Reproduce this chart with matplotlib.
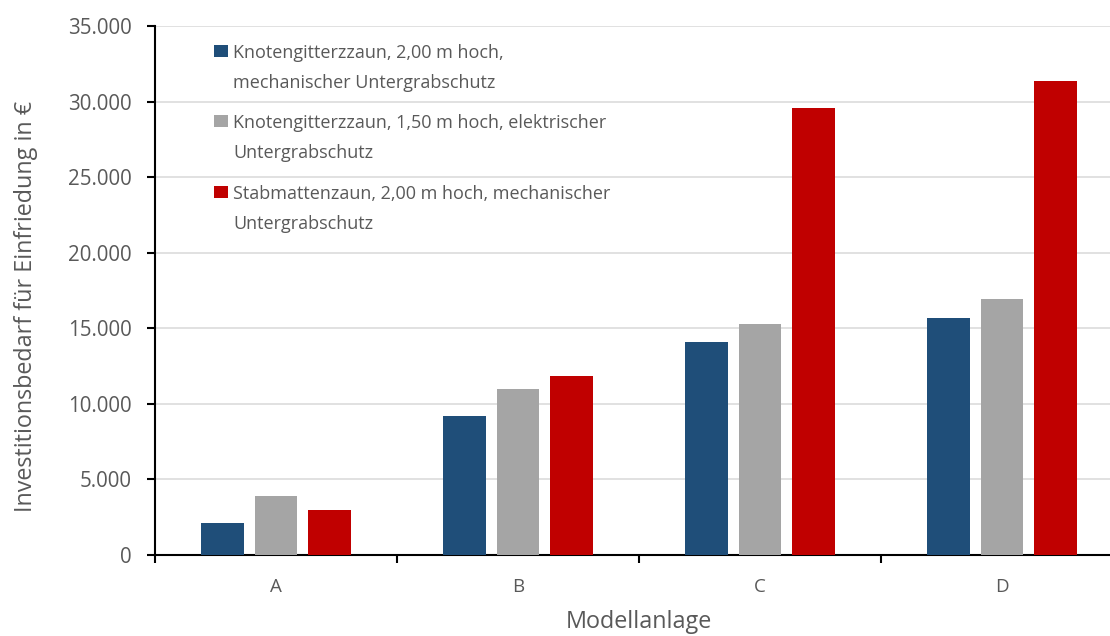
import matplotlib
matplotlib.use("Agg")
import matplotlib.pyplot as plt
import numpy as np
from matplotlib.ticker import FuncFormatter, FixedLocator
from matplotlib.patches import Rectangle

categories = ["A", "B", "C", "D"]
series_names = [
    ["Knotengitterzzaun, 2,00 m hoch,", "mechanischer Untergrabschutz"],
    ["Knotengitterzzaun, 1,50 m hoch, elektrischer", "Untergrabschutz"],
    ["Stabmattenzaun, 2,00 m hoch, mechanischer", "Untergrabschutz"],
]
knoten_200 = [2100, 9200, 14100, 15700]
knoten_150 = [3900, 11000, 15300, 16950]
stabmatten = [3000, 11850, 29580, 31370]
colors = ["#1f4e79", "#a5a5a5", "#c00000"]
text_color = "#595959"

plt.rcParams['font.family'] = ['Open Sans', 'DejaVu Sans']

W, H = 1110, 636
fig = plt.figure(figsize=(W/100, H/100), dpi=100)
ax_left, ax_bottom_px, ax_top_px, ax_w = 155, 555, 26, 968
ax = fig.add_axes([ax_left/W, 1-ax_bottom_px/H, ax_w/W, (ax_bottom_px-ax_top_px)/H])
ax_h = ax_bottom_px - ax_top_px

x = np.arange(len(categories))
w = 0.174
off = 0.221
containers = []
for i, (vals, c) in enumerate(zip([knoten_200, knoten_150, stabmatten], colors)):
    containers.append(ax.bar(x + (i-1)*off, vals, width=w, color=c, zorder=3))

ax.set_xlim(-0.5, 3.5)
ax.set_ylim(0, 35000)
ax.set_yticks(np.arange(0, 35001, 5000))
ax.yaxis.set_major_formatter(FuncFormatter(lambda v, p: f"{int(v):,}".replace(",", ".")))
ax.set_xticks(x)
ax.set_xticklabels(categories)
ax.xaxis.set_minor_locator(FixedLocator([-0.5, 0.5, 1.5, 2.5, 3.5]))
ax.tick_params(axis='x', which='major', length=0, pad=16.5, labelsize=13.5, labelcolor=text_color)
ax.tick_params(axis='x', which='minor', length=5.5, width=1.5, direction='out', color='black')
ax.tick_params(axis='y', length=6, width=1.5, direction='out', color='black',
               labelsize=14.8, labelcolor=text_color, pad=11)

ax.grid(axis='y', color='#d9d9d9', linewidth=1.1, zorder=0)
ax.set_axisbelow(True)
for s in ['top', 'right']:
    ax.spines[s].set_visible(False)
for s in ['left', 'bottom']:
    ax.spines[s].set_color('black')
    ax.spines[s].set_linewidth(1.5)

ax.set_ylabel("Investitionsbedarf für Einfriedung in €", fontsize=16.8, color=text_color)
ax.yaxis.set_label_coords((38-ax_left)/ax_w, (ax_bottom_px-306)/ax_h)
ax.set_xlabel("Modellanlage", fontsize=16.8, color=text_color)
ax.xaxis.set_label_coords(0.4995, (ax_bottom_px-610)/ax_h)

# legend (manual, two-line entries with square at first line)
leg_baselines = [58, 128, 199]
line_step = 30
for cont, lines, by in zip(containers, series_names, leg_baselines):
    col = cont.patches[0].get_facecolor()
    ax.add_patch(Rectangle(((214-ax_left)/ax_w, (ax_bottom_px-(by-1))/ax_h),
                           14/ax_w, 12.5/ax_h, transform=ax.transAxes,
                           facecolor=col, edgecolor='none', clip_on=False, zorder=5))
    for j, t in enumerate(lines):
        ax.text((233-ax_left)/ax_w, (ax_bottom_px-(by + j*line_step))/ax_h, t,
                transform=ax.transAxes, fontsize=13, color=text_color,
                ha='left', va='baseline', zorder=5)

fig.savefig("out.png", dpi=100)
